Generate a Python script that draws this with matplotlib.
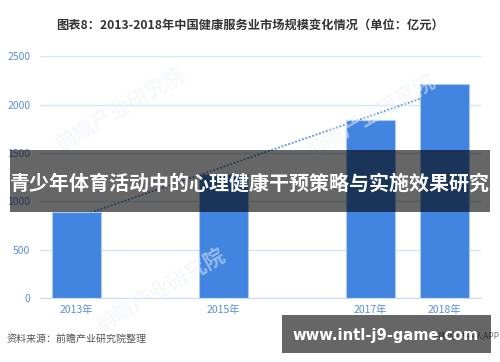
import numpy as np
import matplotlib
matplotlib.use("Agg")
import matplotlib.pyplot as plt
from matplotlib.patches import Rectangle

plt.rcParams['font.family'] = ['Noto Sans CJK SC', 'DejaVu Sans']

years = ["2013年", "2014年", "2015年", "2016年", "2017年", "2018年"]
tick_labels = ["2013年", "", "2015年", "", "2017年", "2018年"]
values = [890, np.nan, 1280, np.nan, 1842, 2211]
yticks = [0, 500, 1000, 1500, 2000, 2500]

title = "图表8：2013-2018年中国健康服务业市场规模变化情况（单位：亿元）"
banner = "青少年体育活动中的心理健康干预策略与实施效果研究"
site = "www.intl-j9-game.com"
source = "资料来源：前瞻产业研究院整理"

fig = plt.figure(figsize=(5, 3.62), dpi=100)
ax = fig.add_axes([0.08, 0.176, 0.882, 0.669])

x = np.arange(len(years))
vals = np.array(values, dtype=float)
ax.bar(x, vals, width=0.67, color="#4285e0", edgecolor="#a9c9f2", linewidth=0.8, zorder=3)

# linear trend line over available data
m = ~np.isnan(vals)
k, b = np.polyfit(x[m], vals[m], 1)
xt = np.array([x[m][0], x[m][-1]])
ax.plot(xt, k * xt + b, linestyle=(0, (1, 1)), color="#5b8fd9", linewidth=1.3, zorder=2)

ax.set_xlim(-0.5, len(years) - 0.5)
ax.set_ylim(0, 2500)
ax.set_yticks(yticks)
ax.set_xticks(x)
ax.set_xticklabels(tick_labels)
ax.grid(axis="y", color="#d4e5f8", linewidth=1.0, zorder=0)
ax.set_axisbelow(True)
for s in ["top", "right", "left"]:
    ax.spines[s].set_visible(False)
ax.spines["bottom"].set_color("#c9ddf5")
ax.tick_params(axis="both", length=0, colors="#5b8fd9", labelsize=7.5)
ax.tick_params(axis="y", pad=7)
ax.tick_params(axis="x", pad=5)

fig.text(0.5, 0.931, title, ha="center", va="center", fontsize=8.8, fontweight="bold", color="#333333")
fig.text(0.014, 0.064, source, ha="left", va="center", fontsize=7.2, color="#555555", style="italic")
fig.text(0.998, 0.07, "前瞻经济学人APP", ha="right", va="center", fontsize=6.0, color="#777777")

# faint watermarks
for (wx, wy) in [(0.24, 0.7), (0.74, 0.68), (0.32, 0.2)]:
    fig.text(wx, wy, "前瞻产业研究院", ha="center", va="center", fontsize=15, fontweight="bold",
             color="#eef2f7", rotation=30, zorder=1.5, alpha=0.5)

# overlay banner
fig.patches.append(Rectangle((0.02, 0.4144), 0.96, 0.1713, transform=fig.transFigure,
                             facecolor="black", alpha=0.6, zorder=10))
fig.text(0.5, 0.4945, banner, ha="center", va="center", fontsize=14.4, fontweight="bold",
         color="white", zorder=11)

# bottom right box
fig.patches.append(Rectangle((0.564, 0.025), 0.418, 0.105, transform=fig.transFigure,
                             facecolor="black", alpha=0.6, zorder=10))
fig.text(0.772, 0.074, site, ha="center", va="center", fontsize=10.6, fontweight="bold",
         color="white", family="DejaVu Sans", zorder=11)

fig.savefig("out.png", dpi=100)
